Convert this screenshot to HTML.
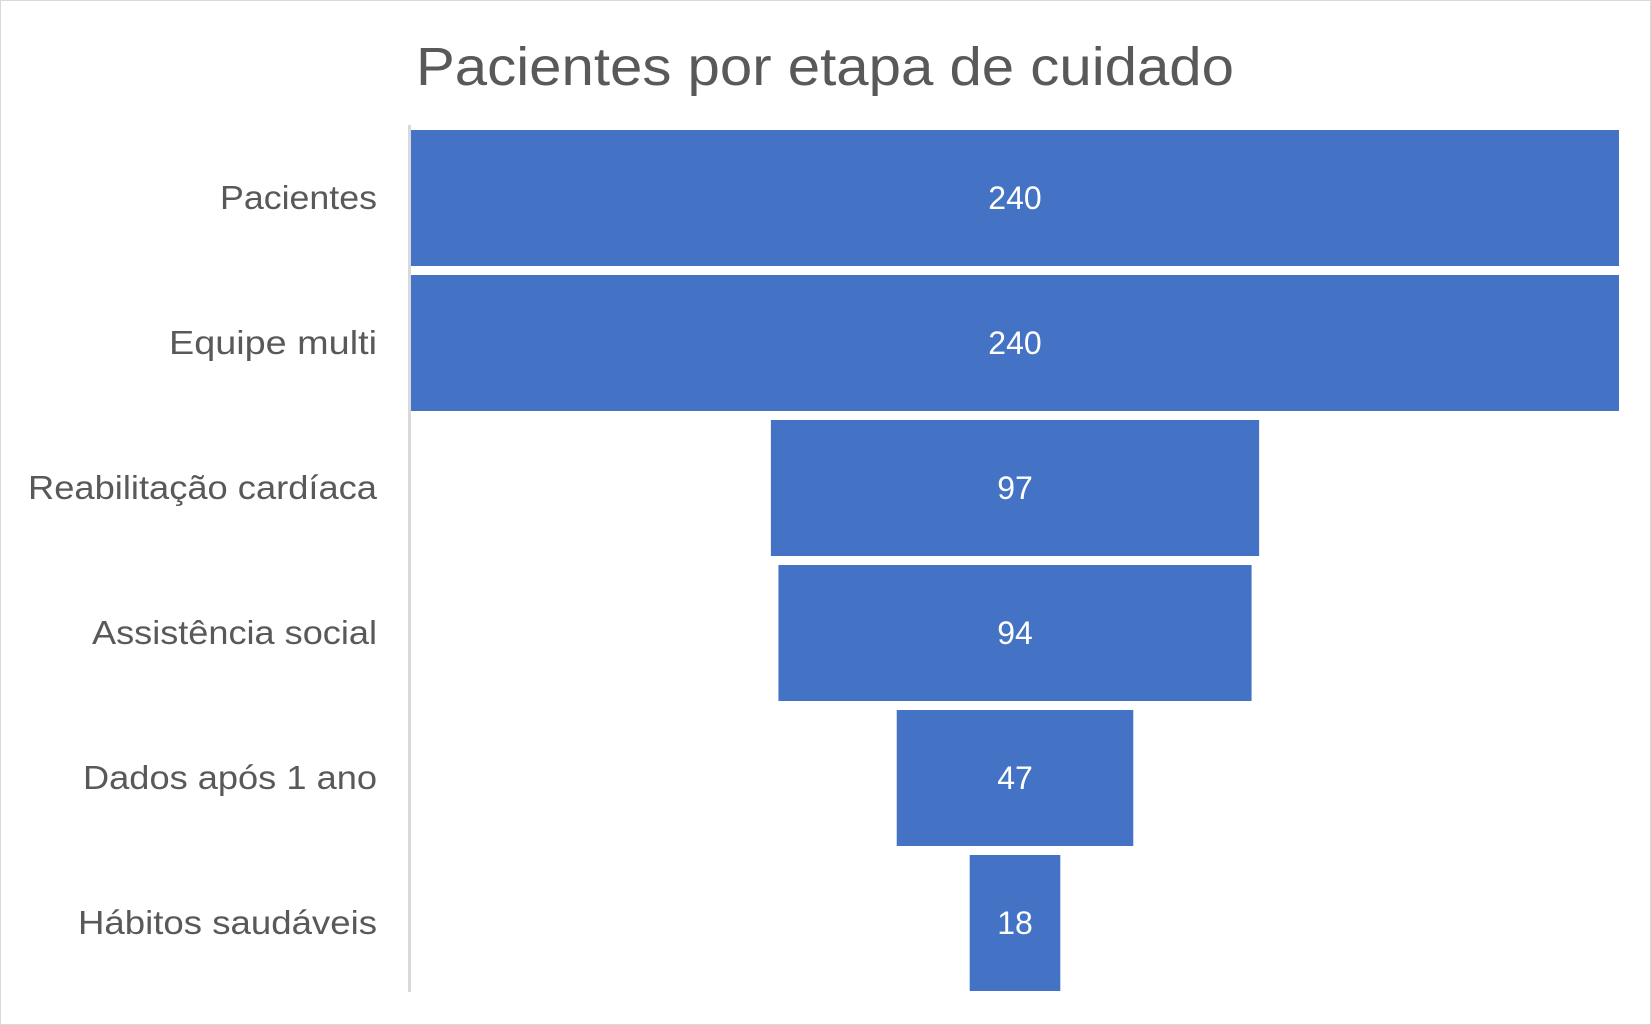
<!DOCTYPE html>
<html><head><meta charset="utf-8"><style>
html,body{margin:0;padding:0;background:#fff;}
svg{display:block;font-family:"Liberation Sans",sans-serif;}
</style></head><body>
<svg width="1651" height="1025" viewBox="0 0 1651 1025">
<rect x="0.5" y="0.5" width="1650" height="1024" fill="#fff" stroke="#d9d9d9"/>
<text x="416" y="85" font-size="54" fill="#595959" textLength="818" lengthAdjust="spacingAndGlyphs">Pacientes por etapa de cuidado</text>
<line x1="409.5" y1="125" x2="409.5" y2="992" stroke="#d9d9d9" stroke-width="3"/>
<g id="bars"></g>
</svg>
<script>
const categories=["Pacientes","Equipe multi","Reabilitação cardíaca","Assistência social","Dados após 1 ano","Hábitos saudáveis"];
const values=[240,240,97,94,47,18];
const labelWidths=[157,208,349,285,294,299];
const maxV=240, plotLeft=411, plotW=1208, center=plotLeft+plotW/2, top0=130, pitch=145, barH=136;
const x=v=>v/maxV*plotW;
const y=i=>top0+i*pitch;
const g=document.getElementById('bars');
const NS="http://www.w3.org/2000/svg";
categories.forEach((c,i)=>{
  const w=x(values[i]);
  const r=document.createElementNS(NS,'rect');
  r.setAttribute('x',center-w/2);r.setAttribute('y',y(i));
  r.setAttribute('width',w);r.setAttribute('height',barH);
  r.setAttribute('fill','#4472c4');
  
  
  g.appendChild(r);
  const t=document.createElementNS(NS,'text');
  t.setAttribute('x',center);t.setAttribute('y',y(i)+barH/2+11);
  t.setAttribute('text-anchor','middle');t.setAttribute('font-size','32');
  t.setAttribute('fill','#fff');t.textContent=values[i];
  
  
  g.appendChild(t);
  const l=document.createElementNS(NS,'text');
  l.setAttribute('x',377);l.setAttribute('y',y(i)+barH/2+11);
  l.setAttribute('text-anchor','end');l.setAttribute('font-size','33');
  l.setAttribute('fill','#595959');
  l.setAttribute('textLength',labelWidths[i]);l.setAttribute('lengthAdjust','spacingAndGlyphs');
  l.textContent=c;
  
  
  g.appendChild(l);
});
</script>
</body></html>
